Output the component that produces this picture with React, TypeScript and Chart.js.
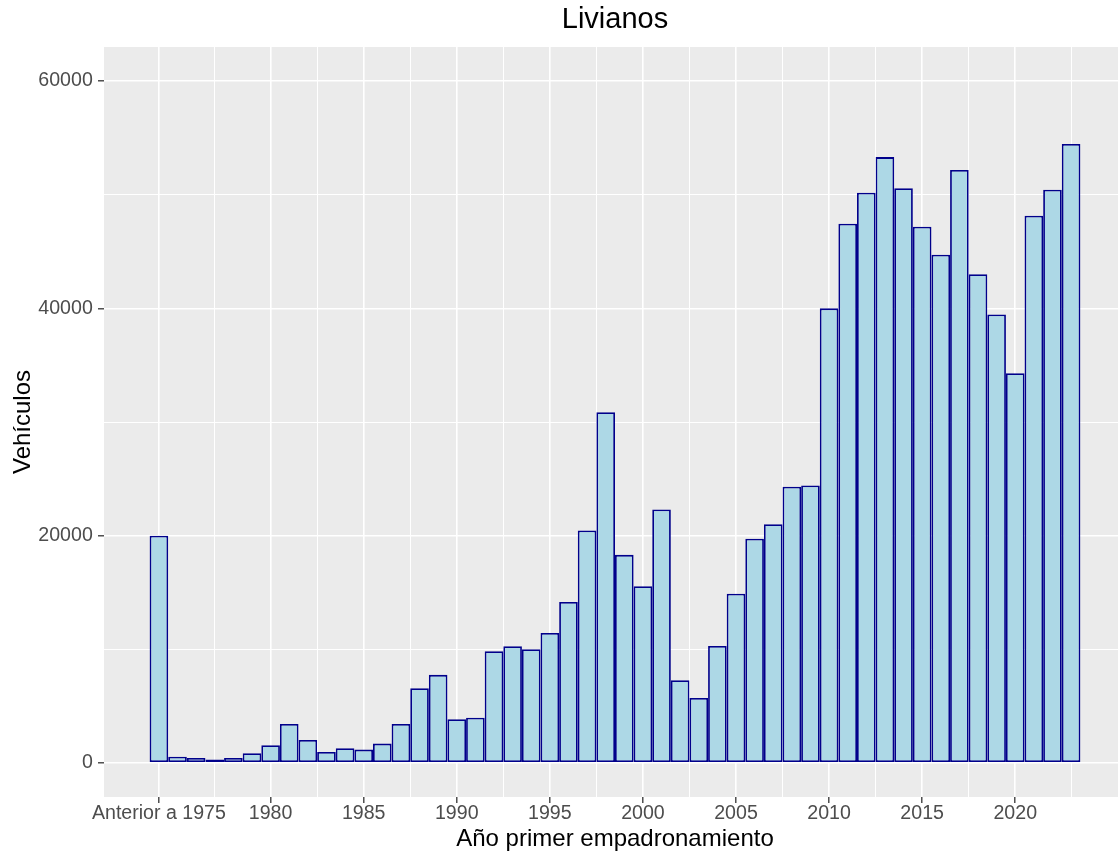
import React, { useEffect, useRef } from "react";
import { Chart, registerables } from "chart.js";

Chart.register(...registerables);

// Bar positions on the continuous year axis ("Anterior a 1975" sits at 1974)
const yearPositions = [
  1974, 1975, 1976, 1977, 1978, 1979, 1980, 1981, 1982, 1983, 1984, 1985, 1986,
  1987, 1988, 1989, 1990, 1991, 1992, 1993, 1994, 1995, 1996, 1997, 1998, 1999,
  2000, 2001, 2002, 2003, 2004, 2005, 2006, 2007, 2008, 2009, 2010, 2011, 2012,
  2013, 2014, 2015, 2016, 2017, 2018, 2019, 2020, 2021, 2022, 2023,
];

const vehiculos = [
  20000, 550, 440, 290, 440, 850, 1550, 3430, 2020, 970, 1290, 1170, 1700,
  3430, 6570, 7750, 3850, 3970, 9820, 10270, 10000, 11440, 14170, 20450, 30860, 18310,
  15550, 22300, 7270, 5710, 10290, 14880, 19720, 21000, 24300, 24410, 40000, 47450, 50180,
  53310, 50580, 47180, 44720, 52170, 43010, 39460, 34300, 48150, 50440, 54460,
];

const xMajorTicks = [1974, 1980, 1985, 1990, 1995, 2000, 2005, 2010, 2015, 2020];
const xMajorLabels = [
  "Anterior a 1975", "1980", "1985", "1990", "1995", "2000", "2005", "2010", "2015", "2020",
];
const xMinorTicks = [1977, 1982.5, 1987.5, 1992.5, 1997.5, 2002.5, 2007.5, 2012.5, 2017.5, 2023];

const yMajorTicks = [0, 20000, 40000, 60000];
const yMinorTicks = [10000, 30000, 50000];

const X_MIN = 1971.05;
const X_MAX = 2025.95;
const Y_MIN = -3000;
const Y_MAX = 63000;

const FONT = "'Liberation Sans', Arial, Helvetica, sans-serif";

const panelBackground = {
  id: "panelBackground",
  beforeDraw(chart: any) {
    const { ctx, chartArea } = chart;
    if (!chartArea) return;
    ctx.save();
    ctx.fillStyle = "#EBEBEB";
    ctx.fillRect(
      chartArea.left,
      chartArea.top,
      chartArea.right - chartArea.left,
      chartArea.bottom - chartArea.top
    );
    ctx.restore();
  },
};

export default function App() {
  const canvasRef = useRef<HTMLCanvasElement | null>(null);

  useEffect(() => {
    const canvas = canvasRef.current;
    if (!canvas) return;

    const isXMajor = (v: number) => xMajorTicks.includes(v);
    const isYMajor = (v: number) => yMajorTicks.includes(v);

    const chart = new Chart(canvas, {
      type: "bar",
      data: {
        datasets: [
          {
            label: "Vehículos",
            data: yearPositions.map((x, i) => ({ x, y: vehiculos[i] })),
            backgroundColor: "#ADD8E6",
            borderColor: "#00008B",
            borderWidth: 1.8,
            borderSkipped: false,
            inflateAmount: 0,
            categoryPercentage: 1,
            barPercentage: 1,
          } as any,
        ],
      },
      plugins: [panelBackground],
      options: {
        responsive: false,
        animation: false,
        devicePixelRatio: 1,
        layout: { padding: 0 },
        font: { family: FONT },
        plugins: {
          legend: { display: false },
          tooltip: { enabled: false },
          title: {
            display: true,
            text: "Livianos",
            fullSize: false,
            color: "#000000",
            font: { family: FONT, size: 29, weight: "normal", lineHeight: 1 },
            padding: { top: 5.5, bottom: 12.5 },
          },
        },
        scales: {
          x: {
            type: "linear",
            min: X_MIN,
            max: X_MAX,
            offset: false,
            afterBuildTicks: (scale: any) => {
              scale.ticks = [...xMajorTicks, ...xMinorTicks]
                .sort((a, b) => a - b)
                .map((v) => ({ value: v }));
            },
            afterFit: (scale: any) => {
              scale.height = 59;
            },
            border: { display: false },
            grid: {
              offset: false,
              drawOnChartArea: true,
              drawTicks: true,
              tickLength: 6,
              color: "#FFFFFF",
              lineWidth: (ctx: any) => (isXMajor(ctx.tick?.value) ? 1.6 : 1.0),
              tickColor: (ctx: any) =>
                isXMajor(ctx.tick?.value) ? "#333333" : "rgba(0,0,0,0)",
              tickWidth: 1.3,
            },
            ticks: {
              autoSkip: false,
              maxRotation: 0,
              minRotation: 0,
              padding: 1.2,
              color: "#4D4D4D",
              font: { family: FONT, size: 19.6, lineHeight: 1 },
              callback: (value: any) => {
                const idx = xMajorTicks.indexOf(Number(value));
                return idx >= 0 ? xMajorLabels[idx] : "";
              },
            },
            title: {
              display: true,
              text: "Año primer empadronamiento",
              color: "#000000",
              font: { family: FONT, size: 24, lineHeight: 1 },
              padding: { top: 0, bottom: 4.3 },
            },
          },
          y: {
            type: "linear",
            min: Y_MIN,
            max: Y_MAX,
            afterBuildTicks: (scale: any) => {
              scale.ticks = [...yMajorTicks, ...yMinorTicks]
                .sort((a, b) => a - b)
                .map((v) => ({ value: v }));
            },
            afterFit: (scale: any) => {
              scale.width = 104;
            },
            border: { display: false },
            grid: {
              drawOnChartArea: true,
              drawTicks: true,
              tickLength: 6,
              color: "#FFFFFF",
              lineWidth: (ctx: any) => (isYMajor(ctx.tick?.value) ? 1.6 : 1.0),
              tickColor: (ctx: any) =>
                isYMajor(ctx.tick?.value) ? "#333333" : "rgba(0,0,0,0)",
              tickWidth: 1.3,
            },
            ticks: {
              autoSkip: false,
              padding: 5.2,
              color: "#4D4D4D",
              font: { family: FONT, size: 19.6, lineHeight: 1 },
              callback: (value: any) =>
                isYMajor(Number(value)) ? String(value) : "",
            },
            title: {
              display: true,
              text: "Vehículos",
              color: "#000000",
              font: { family: FONT, size: 24, lineHeight: 1 },
              padding: { top: 11.4, bottom: 0 },
            },
          },
        },
      } as any,
    });

    return () => {
      chart.destroy();
    };
  }, []);

  return (
    <div
      style={{
        position: "fixed",
        left: 0,
        top: 0,
        width: 1118,
        height: 856,
        overflow: "hidden",
        background: "#FFFFFF",
      }}
    >
      <canvas
        ref={canvasRef}
        width={1126}
        height={856}
        style={{ width: 1126, height: 856, display: "block" }}
      />
    </div>
  );
}
